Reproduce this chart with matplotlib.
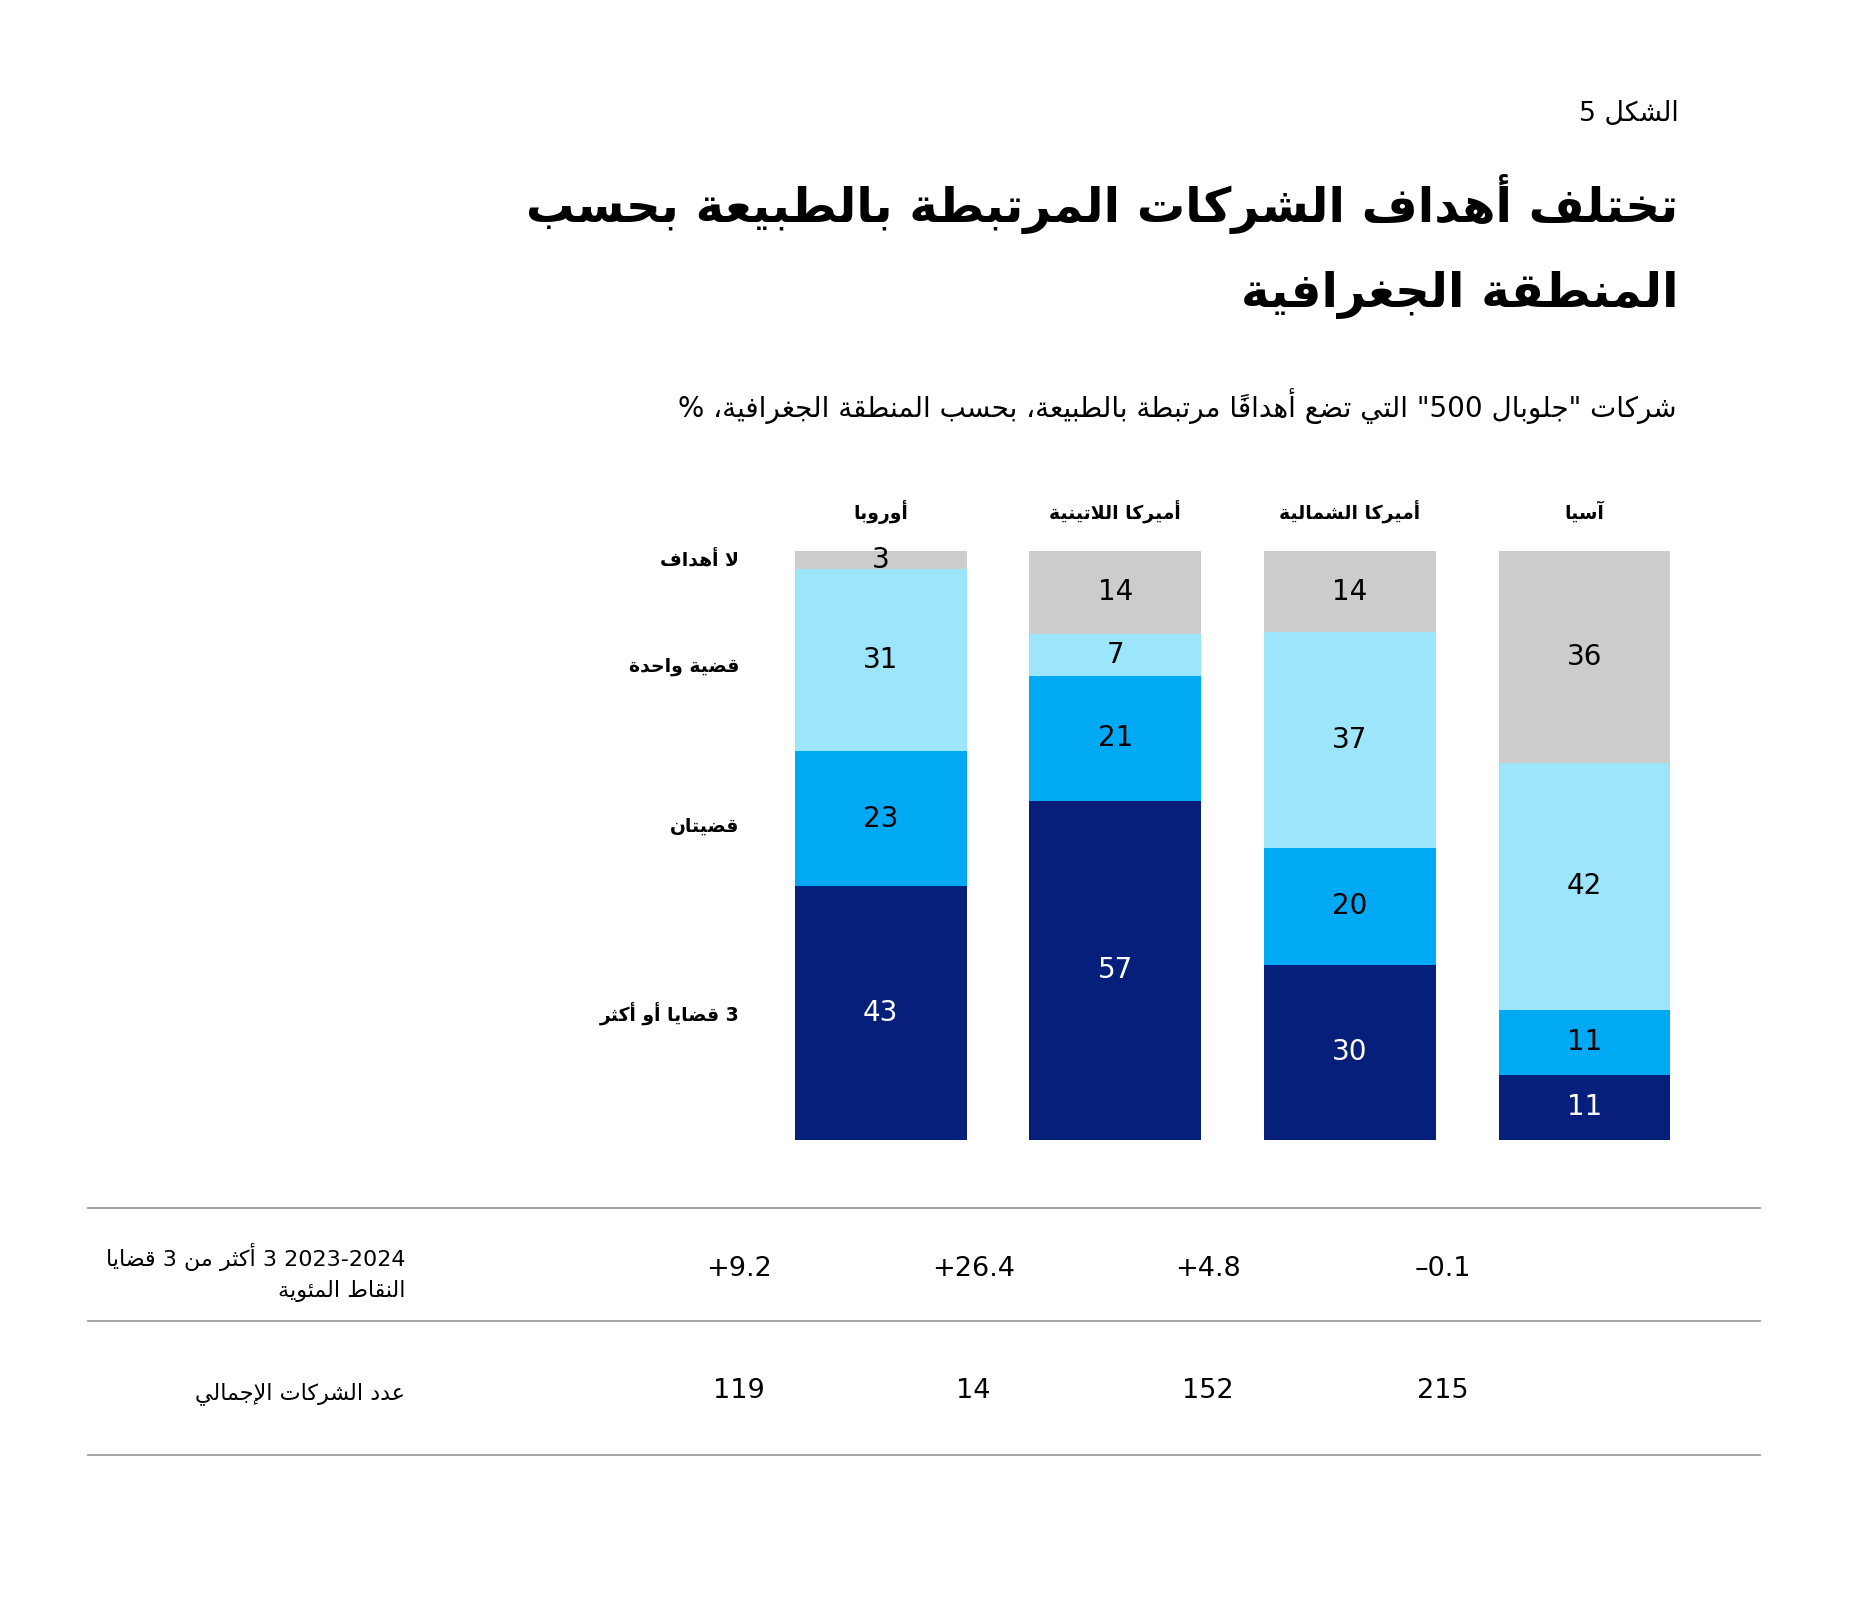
import re
import matplotlib
matplotlib.use("Agg")
import matplotlib.pyplot as plt
from matplotlib.lines import Line2D
from matplotlib.transforms import blended_transform_factory
from matplotlib import font_manager

# ---------------- data ----------------
regions = ["أوروبا", "أميركا اللاتينية", "أميركا الشمالية", "آسيا"]
seg_names = ["3 قضايا أو أكثر", "قضيتان", "قضية واحدة", "لا أهداف"]
three_plus = [43, 57, 30, 11]
two_issues = [23, 21, 20, 11]
one_issue = [31, 7, 37, 42]
no_goals = [3, 14, 14, 36]
change_pp = [9.2, 26.4, 4.8, -0.1]
total_companies = [119, 14, 152, 215]

fig_label = "الشكل 5"
title_lines = ["تختلف أهداف الشركات المرتبطة بالطبيعة بحسب", "المنطقة الجغرافية"]
subtitle = 'شركات "جلوبال 500" التي تضع أهدافاً مرتبطة بالطبيعة، بحسب المنطقة الجغرافية، %'
row1_label = ["2023-2024 3 أكثر من 3 قضايا", "النقاط المئوية"]
row2_label = "عدد الشركات الإجمالي"

colors = ["#061F7A", "#00A9F4", "#9CE5FB", "#CCCCCC"]
text_colors = ["white", "black", "black", "black"]

# ---------------- minimal Arabic shaping + RTL ordering ----------------
_FORMS = [(0x0621, 0xFE80, 1), (0x0622, 0xFE81, 2), (0x0623, 0xFE83, 2), (0x0624, 0xFE85, 2),
          (0x0625, 0xFE87, 2), (0x0626, 0xFE89, 4), (0x0627, 0xFE8D, 2), (0x0628, 0xFE8F, 4),
          (0x0629, 0xFE93, 2), (0x062A, 0xFE95, 4), (0x062B, 0xFE99, 4), (0x062C, 0xFE9D, 4),
          (0x062D, 0xFEA1, 4), (0x062E, 0xFEA5, 4), (0x062F, 0xFEA9, 2), (0x0630, 0xFEAB, 2),
          (0x0631, 0xFEAD, 2), (0x0632, 0xFEAF, 2), (0x0633, 0xFEB1, 4), (0x0634, 0xFEB5, 4),
          (0x0635, 0xFEB9, 4), (0x0636, 0xFEBD, 4), (0x0637, 0xFEC1, 4), (0x0638, 0xFEC5, 4),
          (0x0639, 0xFEC9, 4), (0x063A, 0xFECD, 4), (0x0641, 0xFED1, 4), (0x0642, 0xFED5, 4),
          (0x0643, 0xFED9, 4), (0x0644, 0xFEDD, 4), (0x0645, 0xFEE1, 4), (0x0646, 0xFEE5, 4),
          (0x0647, 0xFEE9, 4), (0x0648, 0xFEED, 2), (0x0649, 0xFEEF, 2), (0x064A, 0xFEF1, 4)]
FORMS = {c: (b, n) for c, b, n in _FORMS}
LAMALEF = {0x0622: 0xFEF5, 0x0623: 0xFEF7, 0x0625: 0xFEF9, 0x0627: 0xFEFB}


def _is_mark(o):
    return 0x064B <= o <= 0x065F or o == 0x0670


def _shape_clusters(s):
    ents = []
    i = 0
    while i < len(s):
        c = s[i]
        o = ord(c)
        if _is_mark(o) and ents:
            ents[-1]["marks"] += c
            i += 1
            continue
        if o == 0x0644 and i + 1 < len(s) and ord(s[i + 1]) in LAMALEF:
            ents.append({"lig": LAMALEF[ord(s[i + 1])], "n": 2, "ar": True, "marks": ""})
            i += 2
            continue
        if o in FORMS:
            b, n = FORMS[o]
            ents.append({"base": b, "n": n, "ar": True, "marks": ""})
        else:
            ents.append({"ch": c, "ar": False, "marks": ""})
        i += 1
    out = []
    for k, e in enumerate(ents):
        if not e["ar"]:
            out.append(e["ch"] + e["marks"])
            continue
        prev = ents[k - 1] if k > 0 else None
        nxt = ents[k + 1] if k + 1 < len(ents) else None
        cp = prev is not None and prev["ar"] and prev["n"] == 4 and "lig" not in prev and e["n"] > 1
        cn = nxt is not None and nxt["ar"] and nxt["n"] > 1 and e["n"] == 4 and "lig" not in e
        if "lig" in e:
            ch = chr(e["lig"] + (1 if cp else 0))
        else:
            if e["n"] == 1:
                idx = 0
            elif cp and cn:
                idx = 3
            elif cn:
                idx = 2
            elif cp:
                idx = 1
            else:
                idx = 0
            ch = chr(e["base"] + idx)
        out.append(ch + e["marks"])
    return out


_LTR = re.compile(r"([0-9A-Za-z]+(?:[.\-–][0-9A-Za-z]+)*)")


def ar(s):
    tokens = []
    for part in _LTR.split(s):
        if not part:
            continue
        if _LTR.fullmatch(part):
            tokens.append(part)
        else:
            tokens.extend(_shape_clusters(part))
    return "".join(reversed(tokens))


# ---------------- fonts ----------------
plt.rcParams["font.family"] = ["DejaVu Sans"]
_names = {f.name for f in font_manager.fontManager.ttflist}
if "Liberation Sans Narrow" in _names:
    NUM_FONT = dict(family=["Liberation Sans Narrow"])
    NUM_SIZE = 22
else:
    NUM_FONT = dict(family=["DejaVu Sans"])
    NUM_SIZE = 19.5

# ---------------- figure ----------------
W, H = 1858, 1605
S = 1.1846
fig = plt.figure(figsize=(W / 100, H / 100), dpi=100)
fig.patch.set_facecolor("white")


def fx(x):
    return x * S / W


def fy(y):
    return 1 - y * S / H


renderer = fig.canvas.get_renderer()


def fit(t, target_disp_px):
    w = t.get_window_extent(renderer).width
    t.set_fontsize(t.get_fontsize() * target_disp_px * S / w)
    return t.get_fontsize()


# header texts
t = fig.text(fx(1417), fy(96), ar(fig_label), ha="right", va="center", fontsize=18)
fit(t, 84)
t1 = fig.text(fx(1417), fy(172), ar(title_lines[0]), ha="right", va="center",
              fontsize=30, fontweight="bold")
fs = fit(t1, 974)
fig.text(fx(1417), fy(249), ar(title_lines[1]), ha="right", va="center",
         fontsize=fs, fontweight="bold")
ts = fig.text(fx(1415), fy(343), ar(subtitle), ha="right", va="center", fontsize=18)
fit(ts, 843)

# bars
ax = fig.add_axes([fx(644.5), fy(962), fx(1436.5) - fx(644.5), fy(465) - fy(962)])
ax.set_xlim(-0.5, 3.5)
ax.set_ylim(0, 100)
ax.axis("off")

series = [three_plus, two_issues, one_issue, no_goals]
x = list(range(len(regions)))
sums = [sum(s[i] for s in series) for i in x]
bottoms = [0.0] * len(x)
trl = blended_transform_factory(fig.transFigure, ax.transData)
for si, vals in enumerate(series):
    h = [vals[i] / sums[i] * 100 for i in x]
    ax.bar(x, h, bottom=bottoms, width=145 / 198, color=colors[si], linewidth=0)
    for i in x:
        ax.text(i, bottoms[i] + h[i] / 2, str(vals[i]), ha="center", va="center",
                fontsize=20, color=text_colors[si])
    seg_center_eu = bottoms[0] + h[0] / 2
    ax.text(fx(624), seg_center_eu - (1.2 if si in (1, 2) else 0), ar(seg_names[si]),
            transform=trl, ha="right", va="center", fontsize=13.5, fontweight="bold",
            color="black")
    bottoms = [bottoms[i] + h[i] for i in x]

# region headers
trh = blended_transform_factory(ax.transData, fig.transFigure)
for i in x:
    ax.text(i, fy(432), ar(regions[i]), transform=trh, ha="center", va="center",
            fontsize=13.5, fontweight="bold")

# table
for yy in (1020, 1115, 1228):
    fig.add_artist(Line2D([fx(74), fx(1486)], [fy(yy), fy(yy)], transform=fig.transFigure,
                          color="#9B9B9B", linewidth=1.3))

fig.text(fx(342), fy(1074), ar(row1_label[0]) + "\n" + ar(row1_label[1]), ha="right",
         va="center", multialignment="right", fontsize=16, linespacing=1.55)
fig.text(fx(342), fy(1176), ar(row2_label), ha="right", va="center", fontsize=16)


def fmt_change(v):
    return ("+" if v >= 0 else "–") + f"{abs(v):.1f}"


for i in x:
    ax.text(i - 0.605, fy(1071), fmt_change(change_pp[i]), transform=trh, ha="center",
            va="center", fontsize=NUM_SIZE, **NUM_FONT)
    ax.text(i - 0.605, fy(1174), str(total_companies[i]), transform=trh, ha="center",
            va="center", fontsize=NUM_SIZE, **NUM_FONT)

fig.savefig("out.png", dpi=100, facecolor="white")
